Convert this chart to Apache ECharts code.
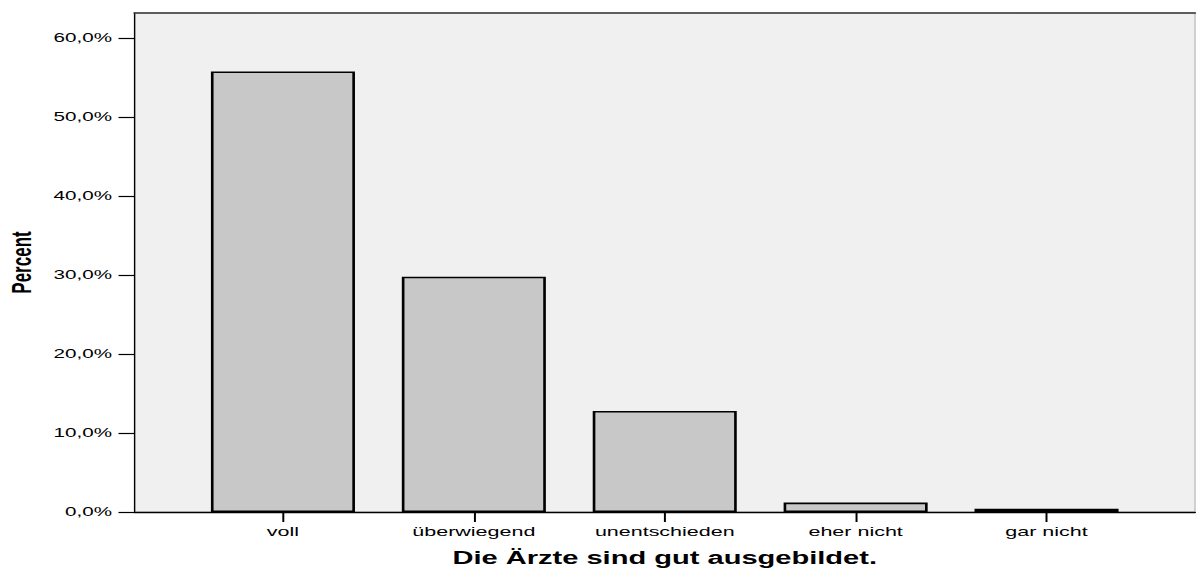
<!DOCTYPE html>
<html>
<head>
<meta charset="utf-8">
<script src="https://cdn.jsdelivr.net/npm/echarts@6/dist/echarts.min.js"></script>
<style>
  html, body { margin: 0; padding: 0; background: #ffffff; overflow: hidden; }
  #wrap { width: 1196px; height: 568px; overflow: hidden; }
  /* original chart was exported with a horizontal stretch; reproduce it */
  #chart { width: 724px; height: 568px; transform: scaleX(1.65193); transform-origin: 0 0; }
</style>
</head>
<body>
<div id="wrap"><div id="chart"></div></div>
<script>
const categories = ['voll', 'überwiegend', 'unentschieden', 'eher nicht', 'gar nicht'];
const percents = [55.8, 29.8, 12.8, 1.2, 0.4];
const yTicks = [0, 10, 20, 30, 40, 50, 60];
const yMax = 63.2;
const xTitle = 'Die Ärzte sind gut ausgebildet.';
const yTitle = 'Percent';

const FONT = "'Liberation Sans', Arial, sans-serif";
const fmt = v => v.toFixed(1).replace('.', ',') + '%';

const chart = echarts.init(document.getElementById('chart'), null, { renderer: 'svg' });
chart.setOption({
  animation: false,
  backgroundColor: '#ffffff',
  grid: [
    { left: 81.42, right: 0.6, top: 13, bottom: 56, show: true, backgroundColor: '#f0f0f0', borderColor: '#c8c8c8', borderWidth: 1, containLabel: false, outerBoundsMode: 'none' },
    { left: 113.5, right: 32.7, top: 13, bottom: 56, containLabel: false, outerBoundsMode: 'none' }
  ],
  xAxis: [
    { gridIndex: 0, type: 'value', position: 'bottom', min: 0, max: 1,
      axisLine: { show: true, lineStyle: { color: '#000', width: 1.3 } },
      axisTick: { show: false }, axisLabel: { show: false }, splitLine: { show: false } },
    { gridIndex: 0, type: 'value', position: 'top', min: 0, max: 1,
      axisLine: { show: true, lineStyle: { color: '#333', width: 1.6 } },
      axisTick: { show: false }, axisLabel: { show: false }, splitLine: { show: false } },
    { gridIndex: 1, type: 'category', data: categories, position: 'bottom',
      boundaryGap: true,
      axisLine: { show: false },
      axisTick: { show: true, alignWithLabel: true, length: 10, lineStyle: { color: '#000', width: 1.2 } },
      axisLabel: { show: true, margin: 13, color: '#000', fontSize: 13, fontFamily: FONT, interval: 0 },
      name: xTitle, nameLocation: 'middle', nameGap: 37,
      nameTextStyle: { color: '#000', fontSize: 17.6, fontWeight: 'bold', fontFamily: FONT } }
  ],
  yAxis: [
    { gridIndex: 0, type: 'value', min: 0, max: yMax,
      axisLine: { show: true, lineStyle: { color: '#000', width: 0.8 } },
      axisTick: { show: true, length: 9.7, customValues: yTicks, lineStyle: { color: '#000', width: 1.2 } },
      axisLabel: { show: true, margin: 13.6, customValues: yTicks, formatter: fmt, color: '#000', fontSize: 12.5, fontFamily: FONT },
      splitLine: { show: false },
      name: yTitle, nameLocation: 'middle', nameGap: 58.5,
      nameTextStyle: { color: '#000', fontSize: 17, fontWeight: 'bold', fontFamily: FONT } },
    { gridIndex: 1, type: 'value', min: 0, max: yMax, show: false,
      axisLine: { show: false }, axisTick: { show: false }, axisLabel: { show: false }, splitLine: { show: false } }
  ],
  series: [
    { type: 'bar', xAxisIndex: 2, yAxisIndex: 1, data: percents, barWidth: 87.2,
      itemStyle: { color: '#c8c8c8', borderColor: '#000', borderWidth: 1.6 } }
  ]
});
</script>
</body>
</html>
